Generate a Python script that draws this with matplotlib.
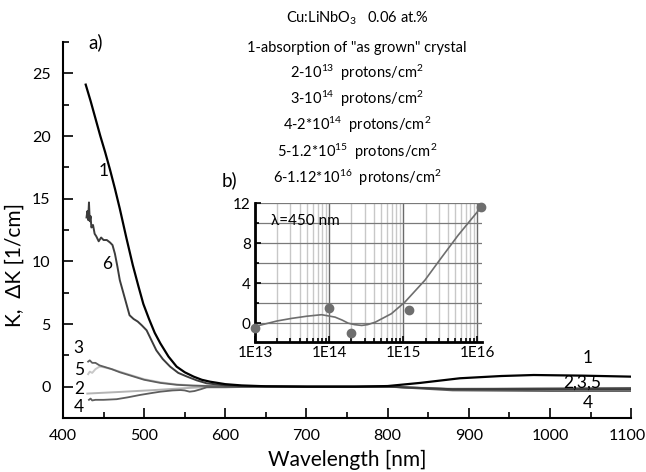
import matplotlib
matplotlib.use("Agg")
import matplotlib.pyplot as plt
import matplotlib.transforms as mtransforms
from matplotlib.ticker import MultipleLocator, LogLocator, NullFormatter, FixedLocator, FixedFormatter

plt.rcParams['font.family'] = ['Lato', 'DejaVu Sans']
plt.rcParams['mathtext.default'] = 'regular'

# ---- main chart data (wavelength nm, K / dK in 1/cm) ----
wl1 = [428, 434, 440, 446, 452, 458, 464, 470, 478, 486, 493, 499, 506, 513, 520, 530, 540, 550, 561, 571, 581, 600, 620, 650, 700, 760, 800, 840, 889, 940, 980, 1040, 1100]
k1 = [24.1, 22.8, 21.4, 20.0, 18.7, 17.3, 15.8, 14.2, 11.9, 9.7, 8.0, 6.6, 5.4, 4.3, 3.45, 2.4, 1.6, 1.15, 0.8, 0.55, 0.4, 0.2, 0.1, 0.03, 0.0, 0.0, 0.05, 0.3, 0.67, 0.85, 0.93, 0.88, 0.8]

wl6 = [429, 430, 431, 432, 433, 434, 435, 437, 439, 441, 444, 447, 450, 454, 458, 461, 464, 467, 470, 476, 482, 487, 492, 497, 503, 509, 515, 523, 532, 542, 553, 565, 577, 600, 630, 700, 800, 880, 1000, 1100]
k6 = [13.5, 14.0, 13.3, 14.7, 13.2, 13.6, 12.7, 12.9, 12.2, 12.0, 11.6, 11.9, 11.7, 11.7, 11.5, 11.3, 10.6, 9.6, 8.5, 7.1, 5.7, 5.4, 5.2, 4.9, 4.5, 3.7, 2.9, 2.2, 1.6, 1.1, 0.8, 0.5, 0.27, 0.1, 0.03, 0.0, 0.0, -0.2, -0.2, -0.2]

wl3 = [431, 433, 436, 440, 445, 450, 460, 470, 480, 490, 500, 520, 540, 560, 600, 700, 800, 880, 1000, 1100]
k3 = [2.0, 2.1, 1.9, 1.9, 1.7, 1.6, 1.4, 1.15, 0.95, 0.75, 0.55, 0.3, 0.15, 0.08, 0.02, 0.0, 0.0, -0.2, -0.15, -0.1]

wl5 = [431, 433, 436, 440, 445, 450, 460, 470, 480, 490, 500, 520, 540, 560, 600, 700, 800, 880, 1000, 1100]
k5 = [1.0, 1.2, 1.1, 1.4, 1.6, 1.55, 1.4, 1.2, 1.0, 0.8, 0.6, 0.35, 0.18, 0.1, 0.03, 0.0, 0.0, -0.15, -0.1, -0.1]

wl2 = [430, 470, 510, 550, 570, 600, 700, 800, 880, 1000, 1100]
k2 = [-0.55, -0.42, -0.28, -0.12, -0.05, 0.0, 0.0, 0.0, -0.2, -0.2, -0.15]

wl4 = [432, 434, 436, 440, 450, 466, 480, 495, 510, 520, 535, 545, 550, 556, 562, 570, 577, 600, 650, 700, 800, 880, 1000, 1100]
k4 = [-1.05, -0.95, -1.1, -1.05, -1.05, -1.0, -0.85, -0.66, -0.5, -0.4, -0.3, -0.27, -0.3, -0.4, -0.35, -0.2, -0.05, -0.05, 0.0, 0.0, 0.0, -0.3, -0.35, -0.35]

# ---- inset data (dose protons/cm^2, dK at 450 nm) ----
dose = [1e13, 1e14, 2e14, 1.2e15, 1.12e16]
dk = [-0.45, 1.57, -0.97, 1.37, 11.6]
fit_dose = [1e13, 2e13, 3.1e13, 5e13, 7.9e13, 1.2e14, 1.5e14, 1.8e14, 2.2e14, 2.75e14, 3.3e14, 4.2e14, 6.9e14, 1.05e15, 1.95e15, 3.2e15, 5.5e15, 1.07e16]
fit_dk = [-0.3, 0.25, 0.5, 0.72, 0.87, 0.63, 0.33, 0.03, -0.12, -0.2, -0.12, 0.13, 0.97, 2.13, 4.3, 6.47, 8.8, 11.4]

xticks_main = [400, 500, 600, 700, 800, 900, 1000, 1100]
yticks_main = [0, 5, 10, 15, 20, 25]
inset_xticks = [1e13, 1e14, 1e15, 1e16]
inset_xlabels = ['1E13', '1E14', '1E15', '1E16']
inset_yticks = [0, 4, 8, 12]

legend_lines = [
    r'Cu:LiNbO$_3$   0.06 at.%',
    '1-absorption of "as grown" crystal',
    r'2-10$^{13}$  protons/cm$^2$',
    r'3-10$^{14}$  protons/cm$^2$',
    r'4-2*10$^{14}$  protons/cm$^2$',
    r'5-1.2*10$^{15}$  protons/cm$^2$',
    r'6-1.12*10$^{16}$  protons/cm$^2$',
]

fig = plt.figure(figsize=(6.46, 4.72), dpi=100)
ax = fig.add_axes([0.0975, 0.1144, 0.8795, 0.7966])

ax.plot(wl2, k2, color='#b4b4b4', lw=1.4)
ax.plot(wl5, k5, color='#c8c8c8', lw=1.4)
ax.plot(wl3, k3, color='#5e5e5e', lw=1.3)
ax.plot(wl4, k4, color='#5e5e5e', lw=1.3)
ax.plot(wl6, k6, color='#3c3c3c', lw=1.4)
ax.plot(wl1, k1, color='black', lw=1.6)

ax.set_xlim(400, 1100)
ax.set_ylim(-2.5, 27.5)
ax.set_xticks(xticks_main)
ax.set_yticks(yticks_main)
ax.xaxis.set_minor_locator(MultipleLocator(50))
ax.yaxis.set_minor_locator(MultipleLocator(2.5))
ax.tick_params(which='both', direction='in', labelsize=11.5, width=1.2)
ax.tick_params(which='major', length=7)
ax.tick_params(which='minor', length=4)
ax.tick_params(axis='x', pad=8)
ax.tick_params(axis='y', pad=9)
for s in ['top', 'right']:
    ax.spines[s].set_visible(False)
for s in ['left', 'bottom']:
    ax.spines[s].set_linewidth(1.5)

# nudge the last x tick label ("1100") a little left so it stays inside the image
last_lbl = ax.get_xticklabels()[-1]
last_lbl.set_transform(last_lbl.get_transform() +
                       mtransforms.ScaledTranslation(-4/100, 0, fig.dpi_scale_trans))

fig.text(347/646, 1 - 466/472, 'Wavelength [nm]', fontsize=15, ha='center', va='baseline')
fig.text(15/646, 1 - 265/472, 'K,  ΔK [1/cm]', fontsize=15, ha='center', va='center', rotation=90)

lab_kw = dict(fontsize=12.5, ha='center', va='center')
ax.text(450, 17.2, '1', **lab_kw)
ax.text(454, 9.8, '6', **lab_kw)
ax.text(419.5, 3.1, '3', **lab_kw)
ax.text(419.5, 1.35, '5', **lab_kw)
ax.text(419.5, -0.15, '2', **lab_kw)
ax.text(419.5, -1.65, '4', **lab_kw)
ax.text(1047, 2.3, '1', **lab_kw)
ax.text(1040, 0.3, '2,3,5', **lab_kw)
ax.text(1047, -1.3, '4', **lab_kw)

fig.text(88/646, 1 - 42/472, 'a)', fontsize=13.5, ha='left', va='center')
fig.text(222/646, 1 - 180/472, 'b)', fontsize=13.5, ha='left', va='center')

ys = [18, 48, 73, 99, 125, 152, 178]
for t, y in zip(legend_lines, ys):
    fig.text(357/646, 1 - y/472, t, fontsize=10.5, ha='center', va='center')

# ---- inset ----
axi = fig.add_axes([255/646, 1 - 341.5/472, 227/646, (341.5 - 203)/472])
axi.set_xscale('log')
axi.set_xlim(1e13, 1.15e16)
axi.set_ylim(-1.8, 12)
axi.plot(fit_dose, fit_dk, color='#6e6e6e', lw=1.2, zorder=3)
axi.plot(dose, dk, 'o', color='#6e6e6e', ms=6, zorder=4, clip_on=False)
axi.xaxis.set_major_locator(FixedLocator(inset_xticks))
axi.xaxis.set_major_formatter(FixedFormatter(inset_xlabels))
axi.xaxis.set_minor_locator(LogLocator(base=10, subs=range(2, 10)))
axi.xaxis.set_minor_formatter(NullFormatter())
axi.set_yticks(inset_yticks)
axi.yaxis.set_minor_locator(MultipleLocator(2))
axi.grid(which='major', axis='x', color='#6a6a6a', lw=1.0)
axi.grid(which='minor', axis='x', color='#c8c8c8', lw=1.0)
axi.grid(which='both', axis='y', color='#7a7a7a', lw=0.9)
axi.set_axisbelow(True)
axi.tick_params(which='both', direction='in', labelsize=11, width=1.2, pad=3)
axi.tick_params(which='major', length=4)
axi.tick_params(which='minor', length=3)
for s in ['top', 'right']:
    axi.spines[s].set_visible(False)
for s in ['left', 'bottom']:
    axi.spines[s].set_linewidth(2)
axi.patch.set_alpha(0)
axi.text(0.07, 0.87, 'λ=450 nm', transform=axi.transAxes, fontsize=11,
         ha='left', va='center')

fig.savefig('out.png', dpi=100)
